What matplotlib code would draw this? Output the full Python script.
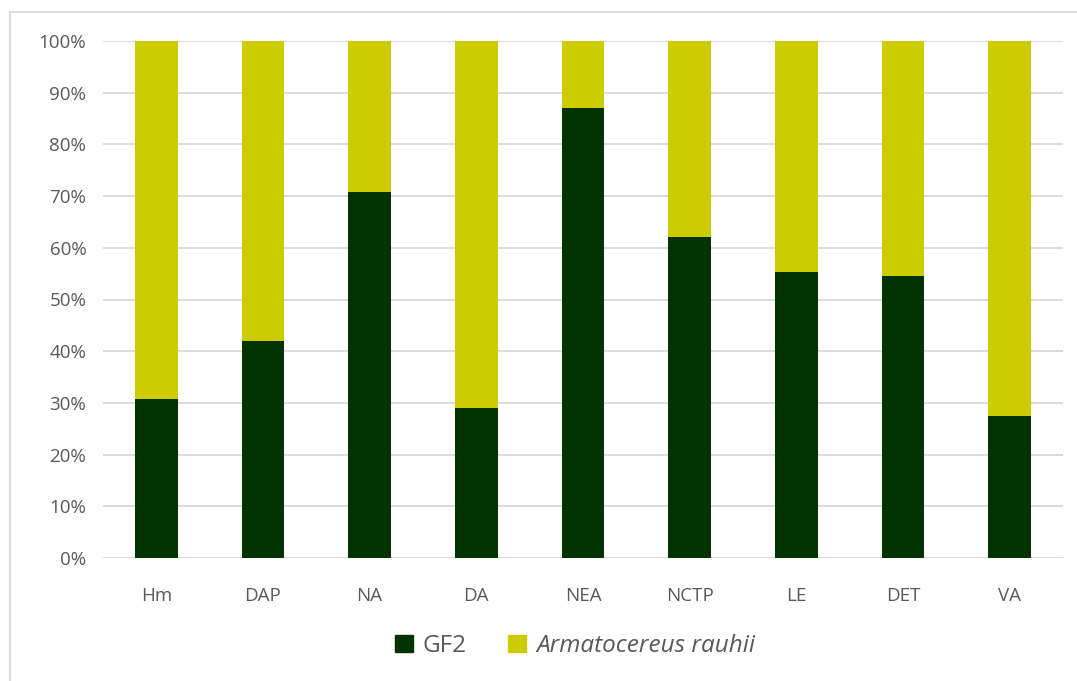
import matplotlib.pyplot as plt
from matplotlib.patches import Rectangle, Patch
from matplotlib.ticker import PercentFormatter

categories = ['Hm', 'DAP', 'NA', 'DA', 'NEA', 'NCTP', 'LE', 'DET', 'VA']
gf2 = [30.8, 42.0, 70.7, 29.1, 87.1, 62.0, 55.4, 54.5, 27.5]
rauhii = [100 - v for v in gf2]

dark = '#003300'
yellow = '#CCCC00'
grey_txt = '#595959'

plt.rcParams['font.family'] = ['Open Sans', 'DejaVu Sans']

fig = plt.figure(figsize=(10.77, 6.81), dpi=100)
# outer chart border
fig.patches.append(Rectangle((10 / 1077, -0.1), 1.2, 1.1 - 12 / 681, transform=fig.transFigure,
                             fill=False, edgecolor='#D9D9D9', linewidth=1.3))

ax = fig.add_axes([103 / 1077, 1 - 558 / 681, 960 / 1077, 517 / 681])
x = range(len(categories))
ax.bar(x, gf2, width=0.4, color=dark, zorder=3)
ax.bar(x, rauhii, width=0.4, bottom=gf2, color=yellow, zorder=3)

ax.set_xlim(-0.5, len(categories) - 0.5)
ax.set_ylim(0, 100)
ax.set_yticks(range(0, 101, 10))
ax.yaxis.set_major_formatter(PercentFormatter(decimals=0))
ax.set_xticks(list(x))
ax.set_xticklabels(categories)
ax.grid(axis='y', color='#D9D9D9', linewidth=1.3, zorder=0)
for s in ax.spines.values():
    s.set_visible(False)
ax.tick_params(length=0, labelsize=13.5, labelcolor=grey_txt)
ax.tick_params(axis='x', pad=21)
ax.tick_params(axis='y', pad=12)

handles = [Patch(color=dark, label='GF2'), Patch(color=yellow, label='Armatocereus rauhii')]
leg = fig.legend(handles=handles, loc='center', bbox_to_anchor=(575 / 1077, 1 - 646 / 681),
                 ncol=2, frameon=False, fontsize=17.5, handlelength=0.75, handleheight=0.75,
                 columnspacing=1.7, handletextpad=0.4)
for t in leg.get_texts():
    t.set_color(grey_txt)
leg.get_texts()[1].set_style('italic')

fig.savefig('out.png', dpi=100)
